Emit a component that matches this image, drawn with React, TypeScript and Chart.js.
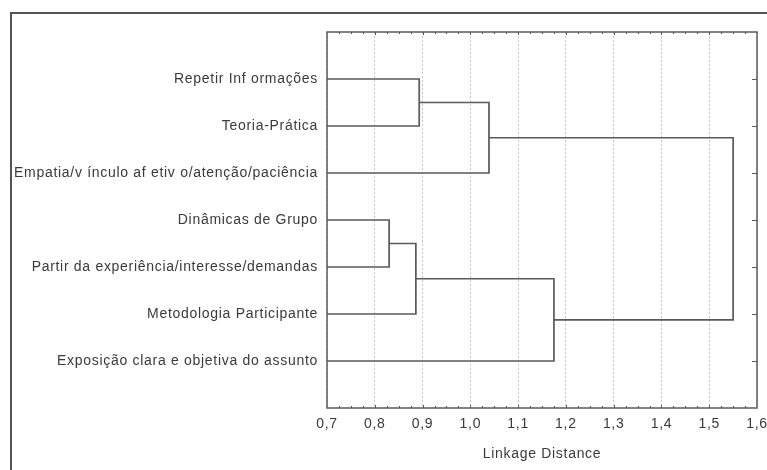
import React, { useEffect, useRef } from "react";
import { Chart, registerables } from "chart.js";

Chart.register(...registerables);

// Leaves (top to bottom)
const leafLabels = [
  "Repetir Inf ormações",
  "Teoria-Prática",
  "Empatia/v ínculo af etiv o/atenção/paciência",
  "Dinâmicas de Grupo",
  "Partir da experiência/interesse/demandas",
  "Metodologia Participante",
  "Exposição clara e objetiva do assunto",
];
// Merges: node ids 0..6 are leaves, 7.. are merges in order
const mergeLeft = [0, 7, 3, 9, 10, 8];
const mergeRight = [1, 2, 4, 5, 6, 11];
const mergeHeight = [0.893, 1.039, 0.83, 0.886, 1.175, 1.55];

const xMin = 0.7;
const xMax = 1.6;
const xStep = 0.1;
const xTitle = "Linkage Distance";

const LINE = "#5a5a5a";
const TEXT = "#3a3a3a";
const FONT = "'Liberation Sans', Arial, sans-serif";
const SPACING = "0.7px";

function buildLinks() {
  const nodeX: number[] = [];
  const nodeY: number[] = [];
  leafLabels.forEach((_, i) => {
    nodeX[i] = xMin;
    nodeY[i] = i + 1;
  });
  const links: { x: number; y: number }[][] = [];
  mergeHeight.forEach((h, k) => {
    const a = mergeLeft[k];
    const b = mergeRight[k];
    links.push([
      { x: nodeX[a], y: nodeY[a] },
      { x: h, y: nodeY[a] },
      { x: h, y: nodeY[b] },
      { x: nodeX[b], y: nodeY[b] },
    ]);
    const id = leafLabels.length + k;
    nodeX[id] = h;
    nodeY[id] = (nodeY[a] + nodeY[b]) / 2;
  });
  return links;
}

const setSpacing = (chart: any) => {
  chart.ctx.letterSpacing = SPACING;
};

const decorPlugin = {
  id: "decor",
  beforeUpdate: setSpacing,
  beforeLayout: setSpacing,
  beforeDraw(chart: any) {
    setSpacing(chart);
    const ctx = chart.ctx;
    ctx.save();
    // outer frame
    ctx.strokeStyle = "#555";
    ctx.lineWidth = 2;
    ctx.beginPath();
    ctx.moveTo(11, 480);
    ctx.lineTo(11, 13);
    ctx.lineTo(780, 13);
    ctx.stroke();
    ctx.restore();
  },
  afterDraw(chart: any) {
    const ctx = chart.ctx;
    const { left, right, top, bottom } = chart.chartArea;
    const xs = chart.scales.x;
    const ys = chart.scales.y;
    ctx.save();
    ctx.strokeStyle = LINE;
    ctx.lineWidth = 1.5;
    ctx.strokeRect(left, top, right - left, bottom - top);
    ctx.lineWidth = 1;
    ctx.beginPath();
    const n = Math.round((xMax - xMin) / 0.025);
    for (let i = 1; i < n; i++) {
      const v = xMin + i * 0.025;
      const px = Math.round(xs.getPixelForValue(v)) + 0.5;
      const len = i % 4 === 0 ? 3 : 2;
      ctx.moveTo(px, bottom);
      ctx.lineTo(px, bottom - len);
      ctx.moveTo(px, top);
      ctx.lineTo(px, top + len);
    }
    leafLabels.forEach((_, i) => {
      const py = Math.round(ys.getPixelForValue(i + 1)) + 0.5;
      ctx.moveTo(right, py);
      ctx.lineTo(right - 5, py);
    });
    ctx.stroke();
    ctx.restore();
  },
};

export default function App() {
  const ref = useRef<HTMLCanvasElement>(null);
  useEffect(() => {
    if (!ref.current) return;
    const links = buildLinks();
    const chart = new Chart(ref.current, {
      type: "scatter",
      data: {
        datasets: links.map((pts) => ({
          data: pts,
          showLine: true,
          borderColor: LINE,
          borderWidth: 1.7,
          pointRadius: 0,
          fill: false,
        })),
      },
      options: {
        animation: false,
        responsive: true,
        maintainAspectRatio: false,
        layout: { padding: { left: 0, top: 32, right: 10, bottom: 0 } },
        plugins: { legend: { display: false }, tooltip: { enabled: false } },
        scales: {
          x: {
            type: "linear",
            min: xMin,
            max: xMax,
            ticks: {
              stepSize: xStep,
              color: TEXT,
              font: { family: FONT, size: 14 },
              padding: 8,
              callback: (v: any) => Number(v).toFixed(1).replace(".", ","),
            },
            grid: {
              drawTicks: false,
              color: "#c8c8c8",
              lineWidth: 1,
              tickLength: 0,
            },
            border: { display: false },
            title: {
              display: true,
              text: xTitle,
              color: TEXT,
              font: { family: FONT, size: 14 },
              padding: { top: 0, bottom: 7 },
            },
            afterFit: (s: any) => {
              s.height = 62;
              s.paddingRight = 0;
              s.paddingLeft = 0;
            },
          } as any,
          y: {
            type: "linear",
            min: 0,
            max: leafLabels.length + 1,
            reverse: true,
            ticks: {
              stepSize: 1,
              color: TEXT,
              font: { family: FONT, size: 14 },
              padding: 9,
              callback: (v: any) => {
                const i = Math.round(Number(v));
                return i >= 1 && i <= leafLabels.length ? leafLabels[i - 1] : "";
              },
            },
            grid: { display: false, drawTicks: false },
            border: { display: false },
            afterFit: (s: any) => {
              s.width = 327;
            },
          } as any,
        },
      },
      plugins: [decorPlugin],
    });
    (chart.options.scales as any).x.grid.borderDash = [2, 2];
    (chart.options.scales as any).x.border.dash = [2, 2];
    chart.update();
    return () => chart.destroy();
  }, []);
  return (
    <div style={{ position: "fixed", left: 0, top: 0, width: 767, height: 470, background: "#fff" }}>
      <canvas ref={ref} />
    </div>
  );
}
